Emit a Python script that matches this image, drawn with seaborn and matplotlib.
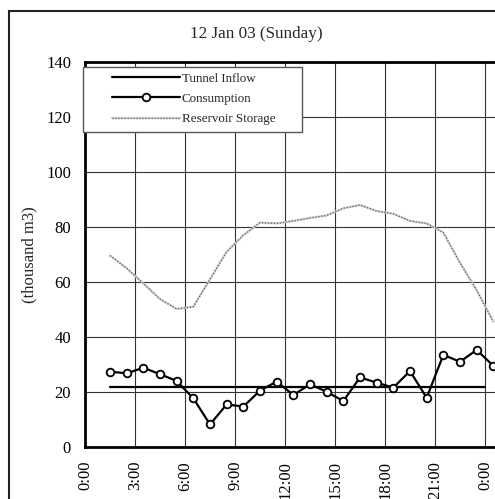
import matplotlib
matplotlib.use("Agg")
import matplotlib.pyplot as plt
from matplotlib.patches import Rectangle
import numpy as np
import pandas as pd
import seaborn as sns

# Hourly readings (hours after midnight, plotted at the middle of each hour)
hours = [1.5, 2.5, 3.5, 4.5, 5.5, 6.5, 7.5, 8.5, 9.5, 10.5, 11.5, 12.5,
         13.5, 14.5, 15.5, 16.5, 17.5, 18.5, 19.5, 20.5, 21.5, 22.5, 23.5, 24.5]
consumption = [27.4, 26.8, 28.8, 26.5, 24.0, 17.7, 8.2, 15.5, 14.7, 20.5, 23.8, 18.9,
               22.8, 20.1, 16.7, 25.3, 23.4, 21.6, 27.6, 17.9, 33.5, 31.0, 35.3, 29.5]
storage = [69.6, 65.0, 59.5, 53.8, 50.2, 51.0, 61.0, 71.0, 77.0, 81.6, 81.3, 82.2,
           83.3, 84.2, 86.8, 88.0, 85.8, 84.8, 82.2, 81.3, 78.0, 67.0, 57.0, 45.6]
inflow_hours = [1.5, 24.0]
inflow = [21.7, 21.7]

xticks = [0, 3, 6, 9, 12, 15, 18, 21, 24]
xtick_labels = ["0:00", "3:00", "6:00", "9:00", "12:00", "15:00", "18:00", "21:00", "0:00"]
yticks = [0, 20, 40, 60, 80, 100, 120, 140]

title = "12 Jan 03 (Sunday)"
ylabel = "(thousand m3)"
series_names = ["Tunnel Inflow", "Consumption", "Reservoir Storage"]

sns.set_style("white")
plt.rcParams["font.family"] = ["Liberation Serif", "DejaVu Serif"]

W, H = 495, 499
fig = plt.figure(figsize=(W / 100, H / 100), dpi=100)
fig.patch.set_facecolor("white")

# plot area in pixel terms: left 85, top 62, bottom 447, runs off the right edge
left_px, top_px, bot_px = 85, 62, 447
ax = fig.add_axes([left_px / W, 1 - bot_px / H, (W - left_px) / W, (bot_px - top_px) / H])

df_c = pd.DataFrame({"hour": hours, "value": consumption})
df_s = pd.DataFrame({"hour": hours, "value": storage})
df_i = pd.DataFrame({"hour": inflow_hours, "value": inflow})

sns.lineplot(data=df_s, x="hour", y="value", ax=ax, color="#cfcfcf", lw=1.6, zorder=3)
st_base = ax.lines[-1]
sns.lineplot(data=df_s, x="hour", y="value", ax=ax, color="#606060", lw=0.9,
             dashes=False, linestyle=(0, (1, 1.4)), zorder=3)
st_dots = ax.lines[-1]
sns.lineplot(data=df_i, x="hour", y="value", ax=ax, color="black", lw=1.6, zorder=4)
inflow_line = ax.lines[-1]
sns.lineplot(data=df_c, x="hour", y="value", ax=ax, color="black", lw=1.6,
             marker="o", markersize=5.5, markerfacecolor="white",
             markeredgecolor="black", markeredgewidth=1.3, zorder=5)
cons_line = ax.lines[-1]

ax.set_xlim(0, (W - left_px) / (50 / 3))
ax.set_ylim(0, 140)
ax.set_xticks(xticks)
ax.set_xticklabels(xtick_labels, rotation=90, fontsize=12, va="top", ha="center")
ax.set_yticks(yticks)
ax.set_yticklabels([str(v) for v in yticks], fontsize=12)
ax.tick_params(axis="both", length=0, pad=10, colors="black")
ax.set_xlabel("")
ax.set_ylabel("")

ax.grid(True, color="#333333", lw=0.8)
ax.set_axisbelow(True)
for side in ["left", "bottom", "top"]:
    ax.spines[side].set_visible(True)
    ax.spines[side].set_color("black")
    ax.spines[side].set_linewidth(2.0)
ax.spines["right"].set_visible(False)

fig.text(256.5 / W, 1 - 34 / H, title, fontsize=12.3, ha="center", va="center")
fig.text(29 / W, 1 - 255 / H, ylabel, fontsize=12, rotation=90, ha="center", va="center")

# outer chart border
fig.add_artist(Rectangle((9 / W, -0.5), 2, 1 - 11 / H + 0.5, transform=fig.transFigure,
                         fill=False, ec="#222222", lw=1.5, zorder=1))

# legend box
fig.add_artist(Rectangle((83 / W, 1 - 132 / H), (302 - 83) / W, (132 - 67) / H,
                         transform=fig.transFigure, fc="white", ec="#555555", lw=1.0,
                         zorder=5))
leg = fig.legend([inflow_line, cons_line, (st_base, st_dots)], series_names,
                 loc="upper left", bbox_to_anchor=(112 / W, 1 - 72.5 / H),
                 bbox_transform=fig.transFigure, frameon=False, fontsize=9.4,
                 borderpad=0, borderaxespad=0, handlelength=5.2, handletextpad=0.15,
                 labelspacing=0.62, numpoints=1)
leg.set_zorder(6)

fig.savefig("out.png", dpi=100)
